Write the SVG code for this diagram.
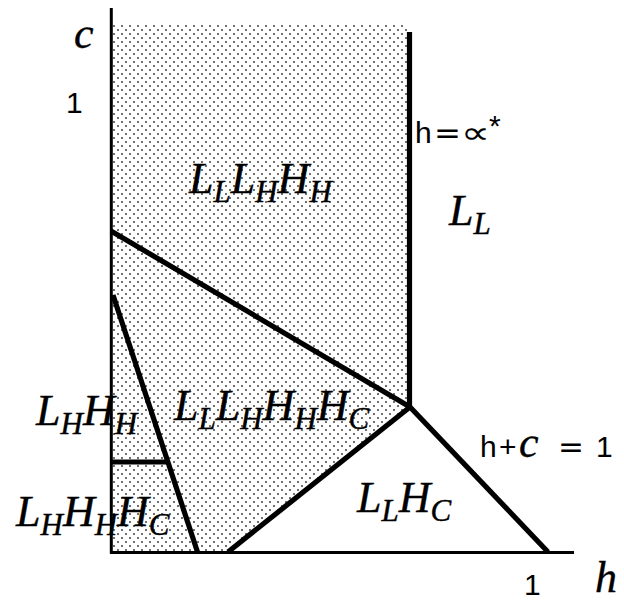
<svg xmlns="http://www.w3.org/2000/svg" width="624" height="602" viewBox="0 0 624 602">
  <defs>
    <pattern id="dots" x="0" y="0" width="8" height="8" patternUnits="userSpaceOnUse">
      <circle cx="2" cy="2" r="0.95" fill="#333"/>
      <circle cx="6" cy="6" r="0.95" fill="#333"/>
    </pattern>
  </defs>
  <style>
    .m { font-family: "Liberation Serif", "DejaVu Serif", serif; font-style: italic; font-size: 44px; fill: #000; stroke: #000; stroke-width: 0.4; }
    .s { font-size: 31px; }
    .sans { font-family: "Liberation Sans", "DejaVu Sans", sans-serif; font-size: 30px; fill: #000; }
    .sym { font-family: "DejaVu Sans", sans-serif; font-size: 30px; fill: #000; }
    .ax { stroke: #000; stroke-width: 3; fill: none; }
    .b { stroke: #000; stroke-width: 5.2; fill: none; stroke-linecap: butt; }
  </style>
  <rect width="624" height="602" fill="#fff"/>

  <!-- shaded region -->
  <polygon id="shade" points="112,23 407,23 407,407 228,552 112,552" fill="url(#dots)"/>

  <g id="axes">
    <line class="ax" x1="111.3" y1="8" x2="111.3" y2="553.5"/>
    <line class="ax" x1="110" y1="552.5" x2="574" y2="552.5" stroke-width="2.6"/>
    <text class="m" x="74" y="48" font-size="48">c</text>
    <text class="sans" x="66" y="113" font-size="29">1</text>
    <text class="m" x="595" y="592" font-size="46">h</text>
    <text class="sans" x="524" y="595" font-size="29">1</text>
  </g>

  <g id="connectors">
    <line class="b" x1="409.5" y1="32" x2="409.5" y2="408"/>
    <line class="b" x1="111" y1="231" x2="410" y2="407"/>
    <line class="b" x1="113" y1="295" x2="197.5" y2="552"/>
    <line class="b" x1="111" y1="462" x2="167" y2="462" stroke-width="5.6"/>
    <line class="b" x1="228" y1="552" x2="410" y2="407"/>
    <line class="b" x1="410" y1="407" x2="548" y2="552"/>
  </g>

  <g id="label-h-alpha">
    <text class="sans" x="415" y="143">h</text>
    <text class="sym" x="434" y="143" textLength="27" lengthAdjust="spacingAndGlyphs">=</text>
    <text class="sym" x="461" y="143" font-size="33" textLength="29" lengthAdjust="spacingAndGlyphs">∝</text>
    <text class="sans" x="489" y="136" font-size="22">*</text>
  </g>

  <g id="label-hc">
    <text class="sans" x="480" y="457">h</text>
    <text class="sans" x="499" y="457">+</text>
    <text class="m" x="519" y="457" font-size="31" stroke-width="0.2">c</text>
    <text class="sym" x="558" y="457" textLength="26" lengthAdjust="spacingAndGlyphs">=</text>
    <text class="sans" x="596" y="457">1</text>
  </g>

  <g id="region-LLLHHH">
    <text class="m" x="189" y="193">L<tspan class="s" dy="9">L</tspan><tspan dy="-9">L</tspan><tspan class="s" dy="9">H</tspan><tspan dy="-9">H</tspan><tspan class="s" dy="9">H</tspan></text>
  </g>

  <g id="region-LL">
    <text class="m" x="449" y="225">L<tspan class="s" dy="9">L</tspan></text>
  </g>

  <g id="region-LLLHHHHC">
    <text class="m" x="174" y="420">L<tspan class="s" dy="9">L</tspan><tspan dy="-9">L</tspan><tspan class="s" dy="9">H</tspan><tspan dy="-9">H</tspan><tspan class="s" dy="9">H</tspan><tspan dy="-9">H</tspan><tspan class="s" dy="9">C</tspan></text>
  </g>

  <g id="region-LHHH">
    <text class="m" x="36" y="425">L<tspan class="s" dy="9">H</tspan><tspan dy="-9">H</tspan><tspan class="s" dy="9">H</tspan></text>
  </g>

  <g id="region-LHHHHC">
    <text class="m" x="16" y="526">L<tspan class="s" dy="9">H</tspan><tspan dy="-9">H</tspan><tspan class="s" dy="9">H</tspan><tspan dy="-9">H</tspan><tspan class="s" dy="9">C</tspan></text>
  </g>

  <g id="region-LLHC">
    <text class="m" x="357" y="512">L<tspan class="s" dy="9">L</tspan><tspan dy="-9">H</tspan><tspan class="s" dy="9">C</tspan></text>
  </g>
</svg>
